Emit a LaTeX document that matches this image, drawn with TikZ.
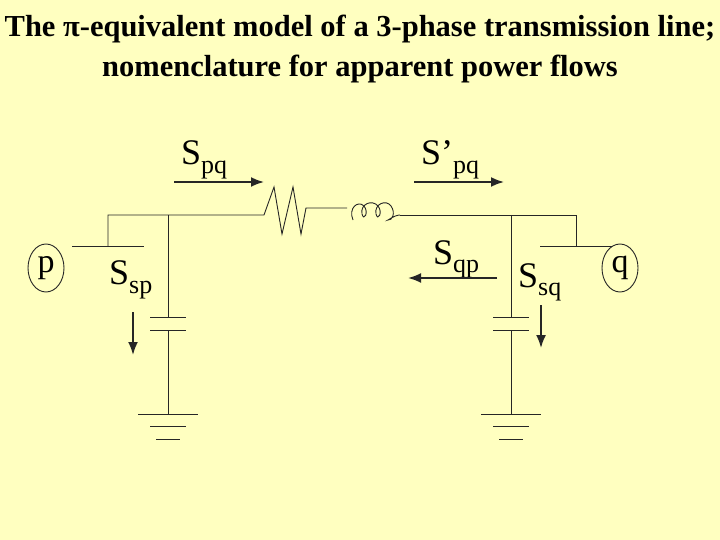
\documentclass[tikz,border=0pt]{standalone}
\usepackage{fontspec}
\setmainfont{Liberation Serif}
\usetikzlibrary{arrows.meta,shapes.geometric}
\begin{document}
\begin{tikzpicture}[x=1pt,y=-1pt,
  w/.style={line width=0.9pt,draw=black!85},
  arr/.style={line width=1.8pt,draw=black!85,-{Latex[length=13pt,width=10pt]}},
  lab/.style={font=\fontsize{36}{36}\selectfont,inner sep=0pt,anchor=base west},
  bus/.style={draw=black!85,line width=0.9pt,ellipse,minimum width=36pt,minimum height=48pt,inner sep=0pt,font=\fontsize{34}{34}\selectfont}]
\fill[fill={rgb,255:red,255;green,255;blue,192}] (0,0) rectangle (720,540);
\useasboundingbox (0,0) rectangle (720,540);
\node (title) [align=center,font=\bfseries\fontsize{30.5}{40}\selectfont] at (360,49) {The π-equivalent model of a 3-phase transmission line;\\nomenclature for apparent power flows};
\coordinate (lt) at (108,215); \coordinate (rs) at (264,215);
\coordinate (le) at (347,208); \coordinate (ls) at (400,215);
\coordinate (rt) at (576,215);
\draw[w] (108,246) -- (lt) -- (rs) -- (274,187) -- (282,234) -- (293,187) -- (301,234) -- (306,208) -- (le);
\draw[w] (353,220) .. controls (348,208) and (358,200) .. (364,206) .. controls (369,212) and (364,222) .. (362,214)
 .. controls (360,204) and (372,199) .. (378,206) .. controls (383,212) and (378,222) .. (376,214)
 .. controls (374,204) and (386,199) .. (391,206) .. controls (396,213) and (392,221) .. (388,220)
 .. controls (394,216) and (398,215) .. (ls);
\draw[w] (ls) -- (rt) -- (576,246);
\draw[w] (72,246) -- (144,246);
\draw[w] (540,246) -- (612,246);
\foreach \x in {168,511}{
 \draw[w] (\x,215) -- (\x,317);
 \draw[w] (\x-18,317) -- (\x+18,317);
 \draw[w] (\x-18,330) -- (\x+18,330);
 \draw[w] (\x,330) -- (\x,414);
 \draw[w] (\x-30,414) -- (\x+30,414);
 \draw[w] (\x-18,426) -- (\x+18,426);
 \draw[w] (\x-12,439) -- (\x+12,439);
}
\node (p) [bus] at (46,268) {p};
\node (q) [bus] at (620,268) {q};
\node (spq) [lab] at (181,165) {S\raisebox{-9pt}{\fontsize{26}{26}\selectfont pq}};
\node (spq2) [lab] at (421,165) {S’\raisebox{-9pt}{\fontsize{26}{26}\selectfont pq}};
\node (sqp) [lab] at (433,264) {S\raisebox{-9pt}{\fontsize{26}{26}\selectfont qp}};
\node (ssp) [lab] at (109,284) {S\raisebox{-9pt}{\fontsize{26}{26}\selectfont sp}};
\node (ssq) [lab] at (518,287) {S\raisebox{-9pt}{\fontsize{26}{26}\selectfont sq}};
\coordinate (a1) at (174,182); \coordinate (a2) at (264,182);
\coordinate (b1) at (414,182); \coordinate (b2) at (504,182);
\coordinate (c1) at (497,278); \coordinate (c2) at (408,278);
\coordinate (d1) at (133,312); \coordinate (d2) at (133,355);
\coordinate (e1) at (541,305); \coordinate (e2) at (541,348);
\draw[arr] (a1) -- (a2);
\draw[arr] (b1) -- (b2);
\draw[arr] (c1) -- (c2);
\draw[arr] (d1) -- (d2);
\draw[arr] (e1) -- (e2);
\end{tikzpicture}
\end{document}
